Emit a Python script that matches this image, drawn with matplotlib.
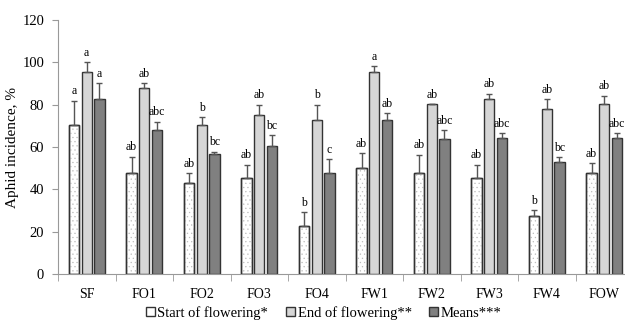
import numpy as np
import matplotlib.pyplot as plt
import matplotlib as mpl

mpl.rcParams['font.family'] = ['Liberation Serif', 'DejaVu Serif']
mpl.rcParams['hatch.linewidth'] = 0.4

categories = ['SF', 'FO1', 'FO2', 'FO3', 'FO4', 'FW1', 'FW2', 'FW3', 'FW4', 'FOW']
series = ['Start of flowering*', 'End of flowering**', 'Means***']

start = [70.3, 47.7, 42.9, 45.2, 22.5, 50.3, 47.8, 45.2, 27.6, 47.8]
end = [95.2, 87.8, 70.3, 75.3, 72.8, 95.4, 80.2, 82.9, 77.9, 80.4]
means = [82.9, 67.8, 56.6, 60.5, 47.8, 72.8, 63.9, 64.2, 52.8, 64.2]

start_err = [11.6, 7.8, 4.7, 6.5, 6.7, 6.9, 8.6, 6.5, 2.5, 4.5]
end_err = [5.0, 2.4, 4.0, 4.7, 7.2, 2.9, 0.0, 2.3, 4.7, 3.9]
means_err = [7.3, 4.2, 1.2, 5.1, 6.4, 3.2, 3.9, 2.3, 2.5, 2.3]

start_lbl = ['a', 'ab', 'ab', 'ab', 'b', 'ab', 'ab', 'ab', 'b', 'ab']
end_lbl = ['a', 'ab', 'b', 'ab', 'b', 'a', 'ab', 'ab', 'ab', 'ab']
means_lbl = ['a', 'abc', 'bc', 'bc', 'c', 'ab', 'abc', 'abc', 'bc', 'abc']

fig = plt.figure(figsize=(6.25, 3.27), dpi=100)
ax = fig.add_axes([58 / 625, 1 - 274 / 327, 575 / 625, 254 / 327])

x = np.arange(len(categories))
w = 0.18
step = 0.22
styles = [
    dict(facecolor='white', hatch='....', ec_h='#bdbdbd'),
    dict(facecolor='#d6d6d6', hatch='', ec_h=None),
    dict(facecolor='#808080', hatch='', ec_h=None),
]
data = [(start, start_err, start_lbl), (end, end_err, end_lbl), (means, means_err, means_lbl)]

handles = []
for i, ((vals, errs, lbls), st) in enumerate(zip(data, styles)):
    pos = x + (i - 1) * step
    b = ax.bar(pos, vals, w, color=st['facecolor'], edgecolor='#333333', linewidth=1.0,
               zorder=2)
    if st['hatch']:
        ax.bar(pos, vals, w, color='none', edgecolor=st['ec_h'], hatch=st['hatch'],
               linewidth=0, zorder=2.5)
        ax.bar(pos, vals, w, color='none', edgecolor='#333333', linewidth=1.0, zorder=2.6)
    ax.errorbar(pos, vals, yerr=[np.zeros(len(vals)), errs], fmt='none', ecolor='#555555',
                elinewidth=1.0, capsize=2.5, capthick=1.0, zorder=3)
    for p, v, e, t in zip(pos, vals, errs, lbls):
        ax.text(p, v + e + 1.5, t, ha='center', va='bottom', fontsize=8.5)
    handles.append(b)

ax.set_xlim(-0.5, len(categories) - 0.5)
ax.set_ylim(0, 120)
ax.set_yticks(range(0, 121, 20))
ax.set_xticks(x)
ax.set_xticklabels(categories, fontsize=10)
ax.set_xticks(np.arange(-0.5, len(categories), 1), minor=True)
ax.tick_params(axis='x', which='major', length=0, pad=10)
ax.tick_params(axis='x', which='minor', length=5, color='#999999', direction='out')
ax.tick_params(axis='y', length=4, color='#999999', labelsize=10.5, pad=6)
ax.set_ylabel('Aphid incidence, %', fontsize=11)
ax.yaxis.set_label_coords(-39 / 575, 0.5)

for s in ['top', 'right']:
    ax.spines[s].set_visible(False)
for s in ['left', 'bottom']:
    ax.spines[s].set_color('#999999')

leg = fig.legend(handles, series, loc='center', bbox_to_anchor=(0.518, 1 - 313 / 327), ncol=3,
                 frameon=False, fontsize=10.5, handlelength=0.6, handleheight=0.6,
                 handletextpad=0.2, columnspacing=1.2)

fig.savefig('out.png', dpi=100)
